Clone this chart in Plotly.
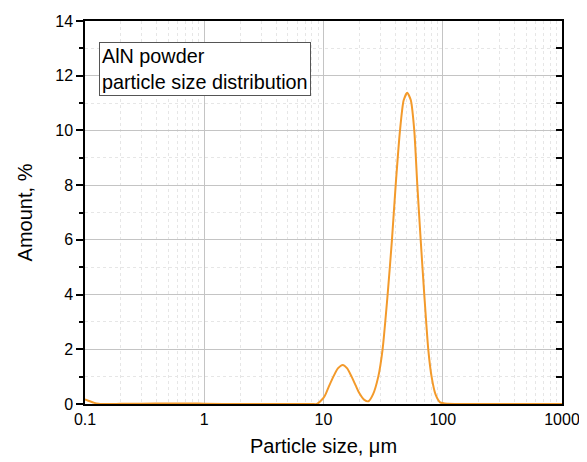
import plotly.graph_objects as go

size_um = [0.1, 0.11, 0.12, 0.13, 0.14, 0.2, 0.3, 0.5, 0.8, 1.0, 2.0, 5.0, 8.0, 8.8,
           10.0, 10.5, 11.2, 12.1, 13.2, 14.5, 15.8, 17.2, 18.6, 20.0, 22.0, 23.8,
           26.0, 28.8, 31.3, 34.5, 37.5, 40.3, 43.8, 47.0, 50.4, 54.0, 57.7, 61.2,
           65.3, 70.0, 75.6, 80.6, 87.0, 95.0, 110.0, 200.0, 1000.0]
amount = [0.17, 0.10, 0.04, 0.01, 0.0, 0.005, 0.01, 0.02, 0.02, 0.01, 0.0, 0.0, 0.0, 0.0,
          0.22, 0.39, 0.68, 1.0, 1.3, 1.43, 1.3, 1.0, 0.68, 0.39, 0.15, 0.1,
          0.35, 1.0, 2.0, 4.0, 6.0, 8.0, 10.0, 11.1, 11.38, 11.1, 10.0, 8.0,
          6.0, 4.0, 2.0, 1.0, 0.35, 0.06, 0.01, 0.0, 0.0]

x_ticks = [0.1, 1, 10, 100, 1000]
x_labels = ["0.1", "1", "10", "100", "1000"]
x_minor = [m * d for d in [0.1, 1, 10, 100] for m in range(2, 10)]
y_ticks = [0, 2, 4, 6, 8, 10, 12, 14]
y_minor = [1, 3, 5, 7, 9, 11, 13]

fig = go.Figure()
fig.add_trace(go.Scatter(x=size_um, y=amount, mode="lines",
                         line=dict(color="#F39A2B", width=2, shape="spline", smoothing=0.6),
                         cliponaxis=False, showlegend=False))
fig.add_trace(go.Scatter(x=[0.1], y=[0], yaxis="y2", mode="markers",
                         marker=dict(opacity=0), showlegend=False, hoverinfo="skip"))

font = "Liberation Sans, Arial, sans-serif"
fig.update_layout(
    width=579, height=454,
    margin=dict(l=77, r=25, t=13, b=58),
    paper_bgcolor="white", plot_bgcolor="white",
    font=dict(family=font, color="black", size=16),
    xaxis=dict(type="log", range=[-1, 3], tickvals=x_ticks, ticktext=x_labels,
               automargin=False,
               showline=True, linecolor="black", linewidth=1.5, mirror=True,
               ticks="", showgrid=True, gridcolor="#C4C4C4", gridwidth=1,
               minor=dict(tickvals=x_minor, showgrid=True, gridcolor="#E6E6E6",
                          griddash="dot", gridwidth=1, ticks=""),
               title=dict(text="Particle size, μm", font=dict(size=20), standoff=12),
               zeroline=False, tickfont=dict(size=16)),
    yaxis=dict(range=[0, 14], tickvals=y_ticks, automargin=False,
               showline=True, linecolor="black", linewidth=1.5, mirror=True,
               ticks="outside", ticklen=7, tickwidth=1.5, tickcolor="black",
               showgrid=True, gridcolor="#C4C4C4", gridwidth=1,
               minor=dict(tickvals=y_minor, showgrid=True, gridcolor="#E6E6E6",
                          griddash="dot", gridwidth=1, ticks="outside", ticklen=4,
                          tickwidth=1.5, tickcolor="black"),
               title=dict(text="Amount, %", font=dict(size=20), standoff=17),
               zeroline=False, tickfont=dict(size=16)),
    yaxis2=dict(range=[0, 14], overlaying="y", side="right", tickvals=y_ticks,
                automargin=False,
                showticklabels=False, ticks="inside", ticklen=6, tickwidth=1.5,
                tickcolor="black", showgrid=False, zeroline=False, showline=False,
                minor=dict(tickvals=y_minor, ticks="inside", ticklen=6,
                           tickwidth=1.5, tickcolor="black", showgrid=False)),
    annotations=[dict(xref="paper", yref="paper", x=0.029, y=0.945,
                      xanchor="left", yanchor="top", align="left", showarrow=False,
                      text="AlN powder<br>particle size distribution",
                      font=dict(size=19.8, family=font, color="black"),
                      bordercolor="#555555", borderwidth=1, borderpad=2,
                      bgcolor="white")],
)

fig.write_html("out.html")
